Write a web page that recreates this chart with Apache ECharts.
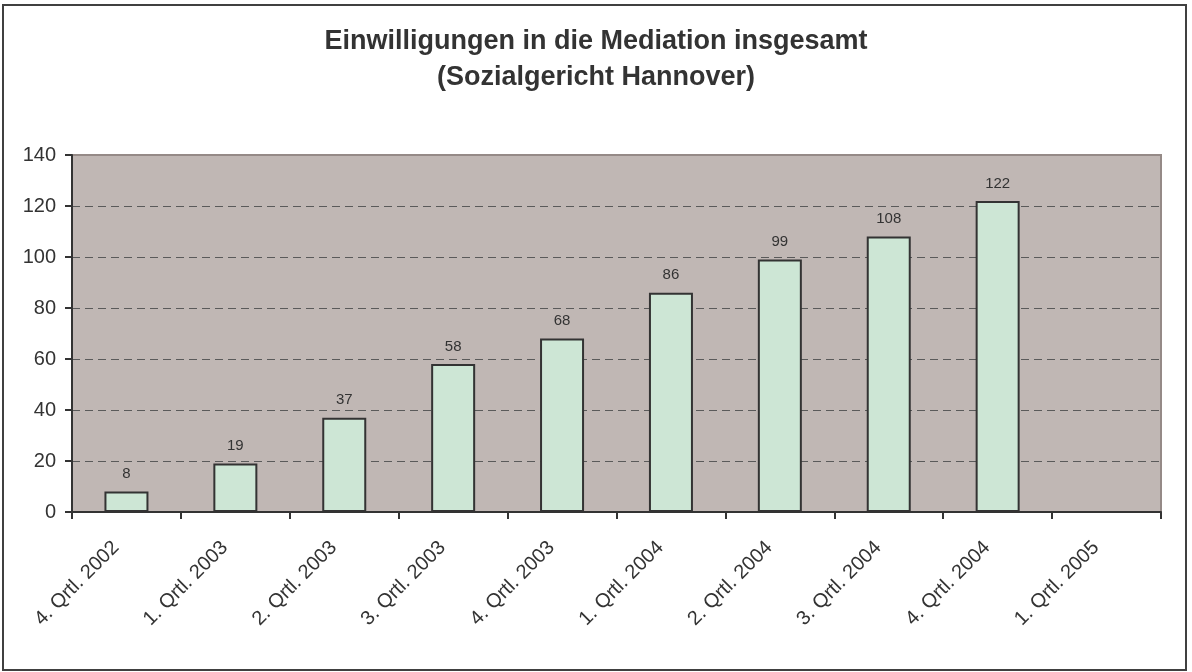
<!DOCTYPE html>
<html>
<head>
<meta charset="utf-8">
<script src="https://cdn.jsdelivr.net/npm/echarts@6/dist/echarts.min.js"></script>
<style>
    html, body { margin: 0; padding: 0; background: #fff; }
    #chart { width: 1192px; height: 672px; }
</style>
</head>
<body>
<div id="chart"></div>
<script>
    // quarters on the x axis
    const quarters = ['4. Qrtl. 2002', '1. Qrtl. 2003', '2. Qrtl. 2003', '3. Qrtl. 2003', '4. Qrtl. 2003',
        '1. Qrtl. 2004', '2. Qrtl. 2004', '3. Qrtl. 2004', '4. Qrtl. 2004', '1. Qrtl. 2005'];
    // Einwilligungen (cumulative), last quarter has no value yet
    const consents = [8, 19, 37, 58, 68, 86, 99, 108, 122, '-'];
    const titleLines = ['Einwilligungen in die Mediation insgesamt', '(Sozialgericht Hannover)'];

    const font = 'Liberation Sans, Arial, sans-serif';
    let chart = echarts.init(document.getElementById('chart'));
    let option = {
        animation: false,
        textStyle: { fontFamily: font },
        title: {
            text: titleLines.join('\n'),
            left: 'center',
            top: 19,
            textStyle: { fontFamily: font, fontSize: 27, fontWeight: 'bold', color: '#333', lineHeight: 36 }
        },
        graphic: [{
            type: 'rect',
            shape: { x: 3, y: 5, width: 1183, height: 665 },
            style: { fill: 'none', stroke: '#404040', lineWidth: 2 },
            z: 100
        }],
        grid: {
            left: 72, right: 31, top: 155, bottom: 160,
            show: true,
            backgroundColor: '#c0b7b4',
            borderColor: '#958a87',
            borderWidth: 2
        },
        xAxis: {
            type: 'category',
            data: quarters,
            axisLine: { lineStyle: { color: '#333', width: 2 } },
            axisTick: { show: true, interval: 0, length: 7, lineStyle: { color: '#333', width: 2 } },
            axisLabel: {
                interval: 0, rotate: 45, margin: 22, padding: [0, 15, 0, 0],
                fontSize: 20, color: '#333', fontFamily: font
            }
        },
        yAxis: {
            type: 'value',
            min: 0, max: 140, interval: 20,
            axisLine: { show: true, lineStyle: { color: '#333', width: 2 } },
            axisTick: { show: true, length: 7, lineStyle: { color: '#333', width: 2 } },
            axisLabel: { fontSize: 20, color: '#333', margin: 16, fontFamily: font },
            splitLine: {
                show: true, showMinLine: false, showMaxLine: false,
                lineStyle: { color: '#5a5a5a', type: [8, 5], width: 1 }
            }
        },
        series: [{
            type: 'bar',
            data: consents,
            barWidth: 44,
            itemStyle: { color: '#cde6d5', borderColor: '#333', borderWidth: 2 },
            label: { show: true, position: 'top', distance: 10, fontSize: 15, color: '#333', fontFamily: font }
        }]
    };
    chart.setOption(option);
</script>
</body>
</html>
